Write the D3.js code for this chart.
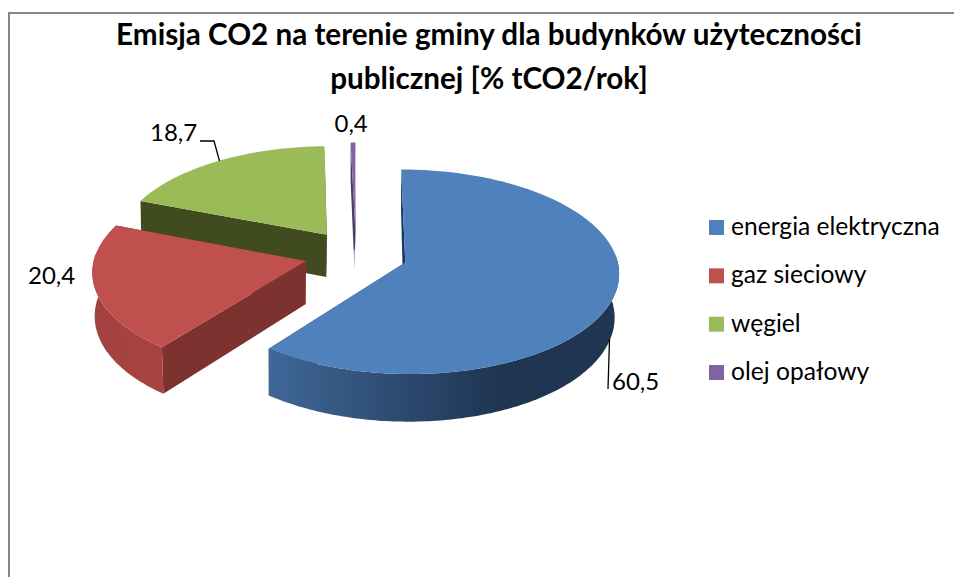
<!DOCTYPE html>
<html lang="pl">
<head>
<meta charset="utf-8">
<script src="https://cdn.jsdelivr.net/npm/d3@7"></script>
<style>
html,body{margin:0;padding:0;background:#fff}
svg{display:block}
text{font-family:Lato,"Open Sans",sans-serif;fill:#000}
</style>
</head>
<body>
<script>
const titleLines = ["Emisja CO2 na terenie gminy dla budynków użyteczności", "publicznej [% tCO2/rok]"];
const categories = ["energia elektryczna", "gaz sieciowy", "węgiel", "olej opałowy"];
const values = [60.5, 20.4, 18.7, 0.4];
const valueLabels = ["60,5", "20,4", "18,7", "0,4"];
const topColors = ["#4F81BD", "#C0504D", "#9BBB59", "#8064A2"];
const wallColors = ["#17365D", "#7D3230", "#414B20", "#4B3A66"];

const W = 954, H = 577;
const svg = d3.select("body").append("svg").attr("width", W).attr("height", H);

// Frame: only the top and left edges are inside the crop
svg.append("path").attr("d", d3.line()([[9, H], [9, 13], [W, 13]]))
  .attr("fill", "none").attr("stroke", "#868686").attr("stroke-width", 2);

// Title
svg.append("g").selectAll("text").data(titleLines).join("text")
  .attr("x", 489).attr("y", (d, i) => 45 + i * 44)
  .attr("text-anchor", "middle").attr("font-weight", 700).attr("font-size", 29.65)
  .text(d => d);

// Projection of the tilted pie: unit-circle world coordinates to the screen
const explode = 0.245, persp = 0.09, depth = 43, vanishX = 275, lowerShrink = 0.013;
const sx = d3.scaleLinear().domain([0, 1]).range([356, 356 + 211]);
const sy = d3.scaleLinear().domain([0, 1]).range([254.5, 254.5 - 100]);
const project = (X, Z, lowered) => {
  const s = 1 / (1 + persp * Z);
  const x = sx(X * s);
  // The lower face sits further from the camera, mostly at the near side
  const shrink = 1 - lowerShrink * Math.max(0, Math.min(1, 1 - Z));
  return lowered
    ? [vanishX + (x - vanishX) * shrink, sy(Z * s) + depth * s]
    : [x, sy(Z * s)];
};

const arcs = d3.pie().sort(null).value(d => d)(values);
const line = d3.line();
const defs = svg.append("defs");

const gradient = (id, x1, y1, x2, y2, stops) => {
  const g = defs.append("linearGradient").attr("id", id)
    .attr("gradientUnits", "userSpaceOnUse")
    .attr("x1", x1).attr("y1", y1).attr("x2", x2).attr("y2", y2);
  stops.forEach(([o, c]) => g.append("stop").attr("offset", o).attr("stop-color", c));
  return `url(#${id})`;
};
const rimFills = [
  gradient("rimBlue", 270, 0, 500, 0, [[0, "#3F6797"], [1, "#1F3552"]]),
  gradient("rimRed", 92, 0, 165, 0, [[0, "#A14240"], [1, "#A8443F"]]),
  null, null
];
const wallFills = [
  wallColors[0], wallColors[1], wallColors[2],
  gradient("wallPurple", 0, 225, 0, 272, [[0, wallColors[3]], [0.5, wallColors[3]], [0.55, "#A09AAE"], [1, "#C4C1CC"]])
];

const pieG = svg.append("g");
// Painter's order: back slices first
[2, 3, 1, 0].forEach(i => {
  const a = arcs[i];
  const mid = (a.startAngle + a.endAngle) / 2;
  const ox = explode * Math.sin(mid), oz = explode * Math.cos(mid);
  const rim = (t, low) => project(ox + Math.sin(t), oz + Math.cos(t), low);
  const apex = low => project(ox, oz, low);
  const n = Math.max(2, Math.ceil((a.endAngle - a.startAngle) * 60));
  const angles = d3.range(n + 1).map(k => a.startAngle + (a.endAngle - a.startAngle) * k / n);
  const g = pieG.append("g");

  [a.startAngle, a.endAngle].forEach(t => {
    g.append("path").attr("fill", wallFills[i])
      .attr("d", line([apex(false), rim(t, false), rim(t, true), apex(true)]) + "Z");
  });

  const front = angles.filter(t => Math.cos(t) < 0.09);
  if (front.length > 1 && rimFills[i]) {
    const pts = front.map(t => rim(t, false)).concat(front.slice().reverse().map(t => rim(t, true)));
    g.append("path").attr("fill", rimFills[i]).attr("d", line(pts) + "Z");
  }

  const top = [apex(false)].concat(angles.map(t => rim(t, false)));
  g.append("path").attr("fill", topColors[i]).attr("d", line(top) + "Z");
});

// Leader lines
const leaders = [
  [[609.5, 339], [608, 389]],
  [[200, 141], [214, 141], [219.5, 161]]
];
svg.append("g").selectAll("path").data(leaders).join("path")
  .attr("d", d => line(d)).attr("fill", "none").attr("stroke", "#000").attr("stroke-width", 1.3);

// Data labels
const labelPos = [[612, 389.5], [28, 284], [150, 140.5], [334.5, 132]];
svg.append("g").selectAll("text").data(valueLabels).join("text")
  .attr("x", (d, i) => labelPos[i][0]).attr("y", (d, i) => labelPos[i][1])
  .attr("font-size", 24).text(d => d);

// Legend
const legendY = d3.scalePoint().domain(categories).range([220, 365]);
const legend = svg.append("g").selectAll("g").data(categories).join("g")
  .attr("transform", d => `translate(709,${legendY(d)})`);
legend.append("rect").attr("width", 15).attr("height", 15)
  .attr("fill", (d, i) => topColors[i]);
legend.append("text").attr("x", 22).attr("y", 15).attr("font-size", 24.6).text(d => d);
</script>
</body>
</html>
